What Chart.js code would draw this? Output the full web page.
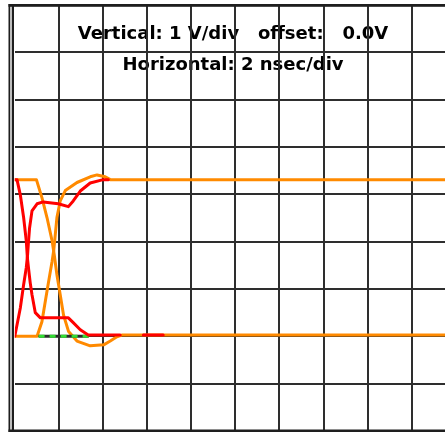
<!DOCTYPE html>
<html>
<head>
<meta charset="utf-8">
<script src="https://cdn.jsdelivr.net/npm/chart.js@4"></script>
<style>
  html, body { margin: 0; padding: 0; background: #fff; overflow: hidden; }
  #wrap { width: 470px; height: 433px; }
</style>
</head>
<body>
<div id="wrap"><canvas id="scope" width="470" height="433"></canvas></div>
<script>
const topText = "Vertical: 1 V/div   offset:   0.0V";
const subText = "Horizontal: 2 nsec/div";

// time in ns, level in volts
const redFallT = [0, 0.1, 0.25, 0.4, 0.52, 0.57, 0.63, 0.7, 0.78, 0.93, 1.16, 2.15, 2.43, 2.65, 2.97, 3.33, 4.78, 5.3, 5.83, 6.73];
const redFallV = [3.31, 3.31, 2.99, 2.51, 2.02, 1.66, 1.41, 1.13, 0.88, 0.5, 0.39, 0.39, 0.39, 0.29, 0.14, 0.03, 0.03, null, 0.03, 0.03];

const redRiseT = [0, 0.25, 0.4, 0.52, 0.58, 0.61, 0.67, 0.78, 1.01, 1.29, 1.97, 2.43, 2.65, 2.97, 3.42, 4.01, 4.24];
const redRiseV = [0, 0.6, 1.09, 1.45, 1.72, 1.93, 2.29, 2.65, 2.8, 2.84, 2.8, 2.74, 2.86, 3.07, 3.24, 3.31, 3.31];

const orgFallT = [0, 0.98, 1.23, 1.46, 1.69, 1.79, 1.91, 2.06, 2.21, 2.44, 2.82, 3.42, 4.03, 4.33, 4.63, 4.88, 20];
const orgFallV = [3.31, 3.31, 2.93, 2.51, 2.02, 1.72, 1.3, 0.88, 0.45, 0.1, -0.1, -0.2, -0.18, -0.1, -0.01, 0.03, 0.03];

const orgRiseT = [0, 1.01, 1.23, 1.38, 1.53, 1.69, 1.77, 1.91, 2.06, 2.29, 2.82, 3.42, 3.73, 4.1, 4.33, 20];
const orgRiseV = [0, 0, 0.31, 0.73, 1.15, 1.58, 1.83, 2.51, 2.86, 3.08, 3.25, 3.37, 3.41, 3.37, 3.31, 3.31];

const probeT = [1.08, 3.35];
const probeV = [0, 0];

const xMin = 0, xMax = 20, xStep = 2;   // 2 nsec/div
const yMin = -2, yMax = 7, yStep = 1;   // 1 V/div

function pts(ts, vs) {
  return ts.map((t, i) => ({ x: t, y: vs[i] }));
}

function trace(data, color, extra) {
  return Object.assign({
    data: data,
    borderColor: color,
    borderWidth: 3,
    pointRadius: 0,
    tension: 0,
    fill: false,
    borderJoinStyle: "round",
    borderCapStyle: "round"
  }, extra || {});
}

const gridColor = "#2e2e2e";

const scopeFrame = {
  id: "scopeFrame",
  beforeDraw(chart) {
    const c = chart.ctx;
    c.save();
    c.fillStyle = "#000";
    c.font = "bold 18px 'DejaVu Sans'";
    c.textAlign = "center";
    c.textBaseline = "alphabetic";
    c.fillText(topText, 233, 39);
    c.fillText(subText, 233, 70);
    c.restore();
  },
  beforeDatasetsDraw(chart) {
    const c = chart.ctx;
    c.save();
    c.fillStyle = "#bdbdbd";
    c.fillRect(10, 4, 2, 428);
    c.fillStyle = "#1e1e1e";
    c.fillRect(8.5, 4, 1.5, 428);
    c.fillRect(12, 4, 2, 428);
    c.fillRect(8.5, 4, 470, 2.8);
    c.fillRect(8.5, 429.5, 470, 2.5);
    c.restore();
  }
};

new Chart(document.getElementById("scope"), {
  type: "line",
  data: {
    datasets: [
      trace(pts(redFallT, redFallV), "#ff0000"),
      trace(pts(redRiseT, redRiseV), "#ff0000"),
      trace(pts(probeT, probeV), "#33dd33", { borderDash: [6, 5], borderCapStyle: "butt" }),
      trace(pts(probeT, probeV), "#2a2a2a", { borderCapStyle: "butt" }),
      trace(pts(orgFallT, orgFallV), "#ff8a00"),
      trace(pts(orgRiseT, orgRiseV), "#ff8a00")
    ]
  },
  options: {
    responsive: false,
    animation: false,
    events: [],
    layout: { padding: { left: 14.8, top: 5, right: 14.2, bottom: 2 } },
    plugins: {
      legend: { display: false },
      tooltip: { enabled: false },
      title: { display: false }
    },
    scales: {
      x: {
        type: "linear",
        min: xMin,
        max: xMax,
        border: { display: false },
        grid: {
          color: (ctx) => (ctx.index === 0 ? "rgba(0,0,0,0)" : gridColor),
          lineWidth: 2,
          drawTicks: false
        },
        ticks: { display: false, stepSize: xStep }
      },
      y: {
        type: "linear",
        min: yMin,
        max: yMax,
        border: { display: false },
        grid: { color: gridColor, lineWidth: 2, drawTicks: false },
        ticks: { display: false, stepSize: yStep }
      }
    }
  },
  plugins: [scopeFrame]
});
</script>
</body>
</html>
